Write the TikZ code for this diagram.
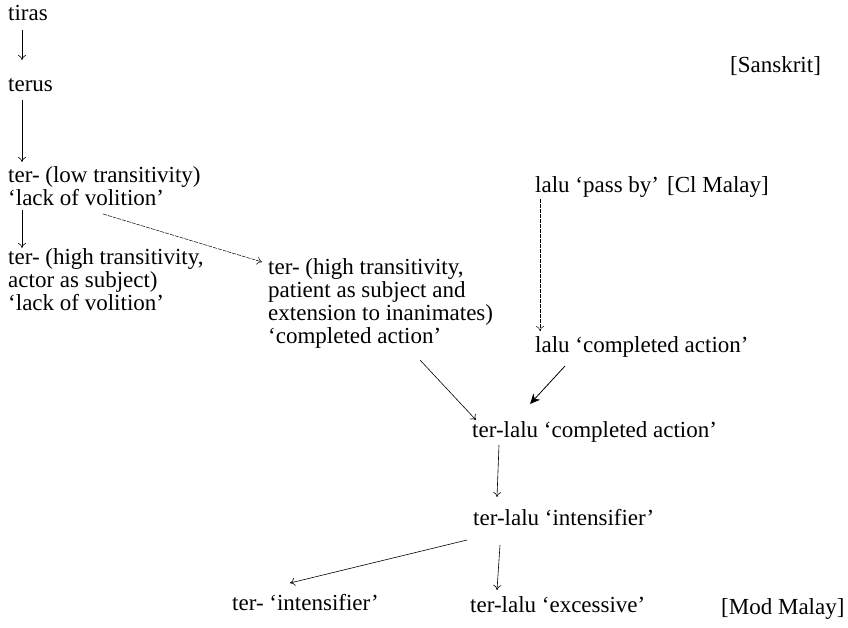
\documentclass[tikz,border=0pt]{standalone}
\usepackage{fontspec}
\setmainfont{Liberation Serif}
\usetikzlibrary{arrows.meta}
\tikzset{
  lbl/.style={anchor=base west, inner sep=0pt, align=left, font=\fontsize{23}{23}\selectfont},
  arr/.style={line width=0.6pt, -{To[length=5pt,width=8pt]}},
  farr/.style={line width=0.5pt, dash pattern=on 4pt off 1pt, -{To[length=5pt,width=8pt]}},
  barr/.style={line width=0.8pt, -{Stealth[length=10pt,width=9pt,inset=3pt]}}
}
\begin{document}
\begin{tikzpicture}[x=1pt,y=-1pt]
\useasboundingbox (0,0) rectangle (848,627);
\node[lbl] (tiras) at (8,20) {tiras};
\node[lbl] (sanskrit) at (730,72) {[Sanskrit]};
\node[lbl] (terus) at (8,91) {terus};
\node[lbl] (lowt) at (8,205) {ter- (low transitivity)\\`lack of volition'};
\node[lbl] (hight) at (8,310) {ter- (high transitivity,\\actor as subject)\\`lack of volition'};
\node[lbl] (patient) at (268,343) {ter- (high transitivity,\\patient as subject and\\extension to inanimates)\\`completed action'};
\node[lbl] (pass) at (535,192) {lalu `pass by'};
\node[lbl] (cl) at (667,192) {[Cl Malay]};
\node[lbl] (laluca) at (535,352) {lalu `completed action'};
\node[lbl] (tlca) at (472,437) {ter-lalu `completed action'};
\node[lbl] (tlint) at (473,525) {ter-lalu `intensifier'};
\node[lbl] (tint) at (232,610) {ter- `intensifier'};
\node[lbl] (tlex) at (470,612) {ter-lalu `excessive'};
\node[lbl] (mod) at (721,614) {[Mod Malay]};

\draw[arr] ([shift={(14,10)}]tiras.base west) -- ([shift={(14,-31)}]terus.base west);
\draw[arr] ([shift={(14,9)}]terus.base west) -- ([shift={(14,-43)}]lowt.base west);
\draw[arr] ([shift={(14,5)}]lowt.base west) -- ([shift={(14,-62)}]hight.base west);
\draw[farr] ([shift={(95,9)}]lowt.base west) -- ([shift={(-6,-81)}]patient.base west);
\draw[farr] ([shift={(5,7)}]pass.base west) -- ([shift={(5,-21)}]laluca.base west);
\draw[arr] ([shift={(152,17)}]patient.base west) -- ([shift={(4,-17)}]tlca.base west);
\draw[barr] ([shift={(30,14)}]laluca.base west) -- ([shift={(58,-33)}]tlca.base west);
\draw[arr] ([shift={(27,8)}]tlca.base west) -- ([shift={(24,-28)}]tlint.base west);
\draw[arr] ([shift={(-6,15)}]tlint.base west) -- ([shift={(58,-27)}]tint.base west);
\draw[arr] ([shift={(27,20)}]tlint.base west) -- ([shift={(27,-22)}]tlex.base west);
\end{tikzpicture}
\end{document}
